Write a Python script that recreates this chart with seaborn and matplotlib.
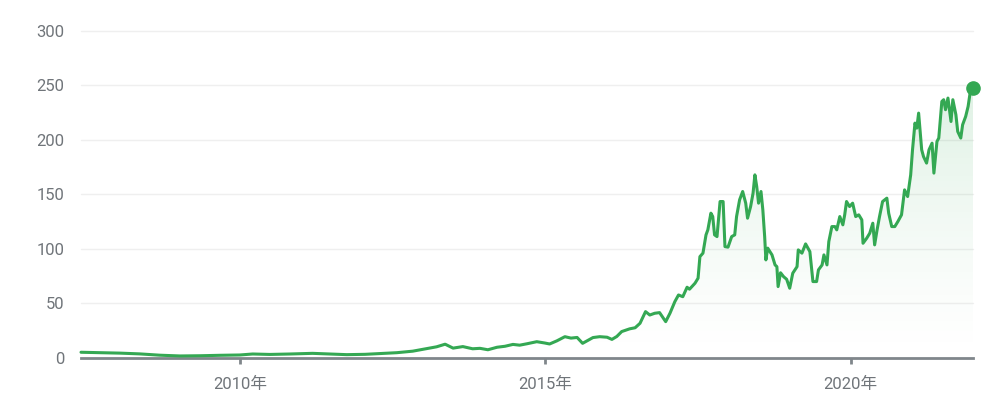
import numpy as np
import matplotlib.pyplot as plt
import matplotlib.colors as mcolors
from matplotlib.patches import Polygon
import seaborn as sns
import pandas as pd

# price history (decimal year, price)
years = [
    2007.40, 2007.71, 2008.04, 2008.36, 2008.69, 2009.02, 2009.35, 2009.67,
    2010.00, 2010.21, 2010.49, 2010.82, 2011.19, 2011.47, 2011.75, 2012.05,
    2012.29, 2012.57, 2012.83, 2013.06, 2013.22, 2013.36, 2013.49, 2013.65,
    2013.81, 2013.93, 2014.06, 2014.21, 2014.34, 2014.47, 2014.58, 2014.70,
    2014.86, 2014.99, 2015.07, 2015.19, 2015.32, 2015.42, 2015.52, 2015.61,
    2015.70, 2015.78, 2015.89, 2016.01, 2016.09, 2016.17, 2016.25, 2016.38,
    2016.47, 2016.55, 2016.64, 2016.71, 2016.79, 2016.87, 2016.97, 2017.04,
    2017.12, 2017.18, 2017.25, 2017.32, 2017.36, 2017.45, 2017.50, 2017.53,
    2017.58, 2017.63, 2017.66, 2017.71, 2017.74, 2017.77, 2017.81, 2017.86,
    2017.91, 2017.94, 2017.99, 2018.05, 2018.10, 2018.13, 2018.18, 2018.23,
    2018.28, 2018.31, 2018.36, 2018.40, 2018.43, 2018.46, 2018.49, 2018.53,
    2018.56, 2018.59, 2018.61, 2018.64, 2018.71, 2018.76, 2018.79, 2018.81,
    2018.85, 2018.90, 2018.95, 2019.00, 2019.05, 2019.12, 2019.14, 2019.20,
    2019.26, 2019.33, 2019.38, 2019.44, 2019.47, 2019.53, 2019.56, 2019.61,
    2019.64, 2019.69, 2019.74, 2019.77, 2019.82, 2019.87, 2019.90, 2019.93,
    2019.98, 2020.03, 2020.08, 2020.13, 2020.18, 2020.20, 2020.26, 2020.31,
    2020.36, 2020.39, 2020.43, 2020.47, 2020.52, 2020.59, 2020.62, 2020.67,
    2020.72, 2020.77, 2020.83, 2020.88, 2020.93, 2020.98, 2021.01, 2021.05,
    2021.08, 2021.11, 2021.16, 2021.19, 2021.24, 2021.28, 2021.33, 2021.36,
    2021.41, 2021.44, 2021.49, 2021.52, 2021.55, 2021.59, 2021.64, 2021.67,
    2021.72, 2021.75, 2021.80, 2021.83, 2021.88, 2021.92, 2021.96, 2022.00,
]
price = [
    5.0, 4.6, 4.2, 3.5, 2.3, 1.6, 1.8, 2.2,
    2.5, 3.4, 3.0, 3.4, 4.0, 3.4, 2.8, 3.1,
    3.8, 4.6, 6.0, 8.3, 10.0, 12.4, 8.8, 10.2,
    8.2, 8.6, 7.3, 9.6, 10.5, 12.2, 11.5, 12.8,
    14.7, 13.5, 12.6, 15.5, 19.3, 18.0, 18.6, 13.2,
    16.0, 18.5, 19.3, 18.8, 16.8, 19.5, 24.0, 26.5,
    27.5, 31.6, 42.3, 39.2, 40.8, 41.4, 33.1, 40.8,
    51.5, 57.6, 56.0, 64.7, 62.9, 68.4, 73.0, 92.8,
    96.0, 112.8, 117.4, 132.7, 129.6, 112.8, 111.2, 143.4,
    143.4, 102.0, 101.5, 111.2, 112.8, 129.6, 145.0, 152.6,
    141.9, 128.1, 138.8, 151.1, 167.9, 157.2, 141.9, 152.6,
    135.8, 111.2, 89.8, 100.6, 94.4, 85.2, 83.6, 65.3,
    78.0, 74.4, 72.0, 63.8, 77.6, 83.6, 99.0, 96.0,
    104.5, 97.4, 69.9, 69.9, 80.6, 85.2, 94.4, 85.2,
    106.6, 120.4, 120.4, 117.4, 129.6, 122.0, 131.2, 143.4,
    138.8, 141.9, 129.6, 131.2, 126.6, 105.1, 109.7, 114.3,
    123.5, 103.6, 117.4, 129.6, 143.4, 146.5, 132.7, 120.4,
    120.4, 125.0, 131.2, 154.1, 148.0, 167.9, 190.9, 215.4,
    210.8, 224.6, 190.9, 184.7, 178.7, 190.9, 197.0, 169.5,
    198.5, 201.7, 235.3, 236.9, 227.7, 238.4, 216.9, 236.9,
    223.1, 207.7, 201.7, 213.9, 221.5, 230.7, 246.0, 247.6,
]
year_ticks = [2010, 2015, 2020]
year_labels = [f"{y}年" for y in year_ticks]
price_ticks = [0, 50, 100, 150, 200, 250, 300]

GREEN = "#34a853"
TEXT = "#70757a"

df = pd.DataFrame({"year": years, "price": price})

sns.set_theme(style="white")
plt.rcParams["font.family"] = ["Roboto", "Noto Sans CJK JP", "DejaVu Sans"]

fig = plt.figure(figsize=(10, 4.04), dpi=100)
ax = fig.add_axes([0.081, 0.1146, 0.892, 0.8087])

sns.lineplot(data=df, x="year", y="price", color=GREEN, lw=2.2,
             ax=ax, zorder=4, clip_on=False)
# marker on the latest value
ax.plot(df.year.iloc[-1], df.price.iloc[-1], "o", color=GREEN, ms=9.5,
        zorder=5, clip_on=False)

# gradient fill under the line
top = df.price.max()
grad = np.zeros((256, 1, 4))
grad[..., :3] = mcolors.to_rgb(GREEN)
grad[:, 0, 3] = np.linspace(0.24, 0.0, 256) ** 1.3
im = ax.imshow(grad, aspect="auto", origin="upper", zorder=1,
               extent=[df.year.min(), df.year.max(), 0, top])
verts = [(df.year.iloc[0], 0)] + list(zip(df.year, df.price)) + [(df.year.iloc[-1], 0)]
clip = Polygon(verts, closed=True, transform=ax.transData,
               facecolor="none", edgecolor="none")
ax.add_patch(clip)
im.set_clip_path(clip)

ax.set_xlim(2007.40, 2022.0)
ax.set_ylim(0, 300)
ax.set_xlabel("")
ax.set_ylabel("")

for y in price_ticks[1:]:
    ax.axhline(y, color="#efefef", lw=1, zorder=0, clip_on=False)

for side in ["top", "left", "right"]:
    ax.spines[side].set_visible(False)
ax.spines["bottom"].set_color("#80868b")
ax.spines["bottom"].set_linewidth(2)
ax.spines["bottom"].set_zorder(3)

ax.set_xticks(year_ticks, year_labels)
ax.set_yticks(price_ticks)
ax.tick_params(axis="x", length=4, width=2, color="#80868b", direction="out",
               labelcolor=TEXT, labelsize=12, pad=10, bottom=True)
ax.tick_params(axis="y", length=0, labelcolor=TEXT, labelsize=12, pad=12)

plt.savefig("out.png", dpi=100)
